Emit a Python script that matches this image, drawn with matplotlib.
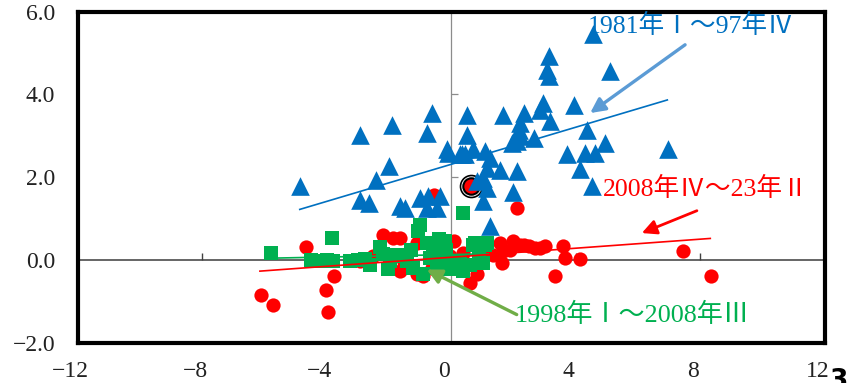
import matplotlib
matplotlib.use("Agg")
import matplotlib.pyplot as plt
import matplotlib.transforms as mtransforms
from matplotlib.markers import TICKUP, TICKRIGHT

# ---- data -------------------------------------------------------------
# 1981 Q1 - 1997 Q4
blue_x = [-4.86, -2.92, -1.90, -0.62, -0.78, -1.99, -2.42, -2.92, -2.63, -1.64,
          -1.48, -1.00, -0.73, -0.78, -0.46, -0.35, -0.14, 0.50, 0.50, 0.45,
          0.29, 0.72, 1.09, 1.25, 1.67, 2.34, 2.86, 2.97, 3.18, 2.22,
          2.20, 2.22, 2.11, 2.65, 1.95, 1.15, 1.58, 2.11, 1.04, 0.83,
          1.15, 1.04, 2.00, 1.25, 3.96, 3.15, 3.08, 3.15, 4.55, 5.11,
          4.36, 4.95, 4.31, 4.63, 6.96, 4.52, 4.15, 3.72, -0.09, 0.34]
blue_y = [1.78, 3.02, 3.27, 3.55, 3.07, 2.26, 1.94, 1.46, 1.38, 1.30,
          1.26, 1.50, 1.54, 1.26, 1.26, 1.55, 2.67, 3.50, 3.03, 2.55,
          2.55, 2.67, 2.63, 2.46, 3.50, 3.55, 3.63, 3.79, 3.37, 3.31,
          3.15, 2.99, 2.87, 2.95, 2.83, 2.22, 2.18, 2.14, 1.98, 1.90,
          1.74, 1.42, 1.64, 0.81, 3.75, 4.92, 4.60, 4.44, 5.46, 4.56,
          3.15, 2.83, 2.58, 2.58, 2.67, 1.78, 2.19, 2.55, 2.58, 2.55]

# 1998 Q1 - 2008 Q3
green_x = [-5.80, -3.81, -4.49, -4.16, -3.99, -3.78, -3.25, -2.77, -2.60, -2.28,
           -2.01, -1.96, -1.75, -1.42, -1.21, -1.05, -1.00, -0.78, -0.68, -0.57,
           -0.46, -0.89, -0.25, -0.03, 0.29, 0.40, 0.40, 0.72, 0.77, 1.09,
           1.15, 1.04, 0.61, 0.13, -0.15, -2.20, -1.60, -0.40, 0.90, -3.00,
           -1.30, -0.20]
green_y = [0.17, 0.52, 0.00, -0.03, 0.00, -0.03, -0.03, 0.03, -0.12, 0.31,
           -0.21, -0.03, 0.13, -0.03, -0.19, 0.69, 0.85, 0.41, 0.05, 0.21,
           -0.19, -0.35, -0.03, -0.23, -0.03, -0.27, 1.14, 0.37, 0.41, 0.37,
           0.41, -0.07, -0.11, -0.11, 0.25, 0.15, 0.10, 0.50, 0.10, 0.00,
           0.25, 0.45]

# 2008 Q4 - 2023 Q2
red_x = [-6.10, -5.73, -4.66, -4.02, -3.95, -3.75, -2.18, -1.85, -1.64, -2.93,
         -1.64, -1.10, -1.10, -0.55, 0.10, 2.11, 1.63, 0.83, 0.61, 2.00,
         2.33, 1.68, 1.36, -0.03, 2.22, 2.49, 2.86, 3.02, 3.61, 3.67,
         4.15, 3.34, 7.44, 8.35, 1.58, 0.40, -0.89, 0.50, -0.30, -2.50,
         -0.60, 1.10, 1.90, 0.25, -1.50, 2.70]
red_y = [-0.84, -1.08, 0.31, -0.73, -1.26, -0.38, 0.61, 0.53, 0.52, -0.03,
         -0.27, -0.35, 0.41, 1.58, 0.45, 1.26, -0.07, -0.35, -0.56, 0.45,
         0.35, 0.21, 0.13, 0.09, 0.37, 0.33, 0.29, 0.33, 0.33, 0.05,
         0.03, -0.38, 0.21, -0.39, 0.41, 0.17, -0.39, -0.10, -0.15, 0.10,
         -0.20, 0.20, 0.25, -0.20, -0.05, 0.30]

# latest quarter
latest_x = [0.63]
latest_y = [1.78]

# linear trends: (slope, intercept, x_from, x_to)
blue_fit = (0.224, 2.31, -4.86, 6.95)
red_fit = (0.0546, 0.065, -6.14, 8.33)
green_fit = (0.015, 0.13, -5.80, 1.20)

x_ticks = [-12, -8, -4, 0, 4, 8, 12]
y_ticks = [-2.0, 0.0, 2.0, 4.0, 6.0]

label_blue = "1981年Ⅰ～97年Ⅳ"
label_red = "2008年Ⅳ～23年Ⅱ"
label_green = "1998年Ⅰ～2008年Ⅲ"

C_BLUE = "#0070C0"
C_RED = "#FF0000"
C_GREEN = "#00B050"

SERIF = ["Liberation Serif", "Noto Sans CJK JP", "DejaVu Sans"]
plt.rcParams["font.family"] = SERIF

# ---- figure -----------------------------------------------------------
fig = plt.figure(figsize=(8.53, 3.83), dpi=100)
ax = fig.add_axes([0.0909, 0.1052, 0.9666 - 0.0909, 0.9695 - 0.1052])
ax.set_xlim(-12, 12)
ax.set_ylim(-2, 6)

for sp in ax.spines.values():
    sp.set_linewidth(3)
    sp.set_color("black")

ax.set_xticks(x_ticks)
ax.set_yticks(y_ticks)
ax.set_xticklabels([f"{v:d}".replace("-", "\u2212") for v in x_ticks])
ax.set_yticklabels([f"{v:.1f}".replace("-", "\u2212") for v in y_ticks])
ax.tick_params(axis="both", length=0, labelsize=17, colors="#222222")
ax.tick_params(axis="y", pad=16)
ax.tick_params(axis="x", pad=13)
shift = mtransforms.ScaledTranslation(-0.07, 0, fig.dpi_scale_trans)
for lab in ax.get_xticklabels():
    lab.set_transform(lab.get_transform() + shift)

# axes crossing at the origin, with their own tick marks
ax.axhline(0, color="#595959", lw=1.3, zorder=1)
ax.axvline(0, color="#8C8C8C", lw=0.9, zorder=1)
ax.plot(x_ticks, [0] * len(x_ticks), ls="none", marker=TICKUP,
        markersize=5, mew=1.0, color="#404040", zorder=1)
ax.plot([0] * len(y_ticks), y_ticks, ls="none", marker=TICKRIGHT,
        markersize=5, mew=0.9, color="#8C8C8C", zorder=1)

# scatter series
ax.scatter(red_x, red_y, s=105, marker="o", color=C_RED, linewidths=0, zorder=3)
ax.scatter(green_x, green_y, s=100, marker="s", color=C_GREEN, linewidths=0, zorder=4)
ax.scatter(latest_x, latest_y, s=250, marker="o", facecolor="white",
           edgecolor="black", linewidths=1.2, zorder=5)
ax.scatter(latest_x, latest_y, s=140, marker="o", facecolor=C_RED,
           edgecolor="black", linewidths=1.5, zorder=5.1)
ax.scatter(blue_x, blue_y, s=180, marker="^", color=C_BLUE, linewidths=0, zorder=6)


def trend(fit):
    k, b, x0, x1 = fit
    return [x0, x1], [k * x0 + b, k * x1 + b]


gx, gy = trend(green_fit)
ax.plot(gx, gy, color=C_GREEN, lw=1.2, zorder=3.5)
rx, ry = trend(red_fit)
ax.plot(rx, ry, color=C_RED, lw=1.2, zorder=7)
bx, by = trend(blue_fit)
ax.plot(bx, by, color=C_BLUE, lw=1.2, zorder=7)

# period labels with arrows
ax.text(4.40, 5.65, label_blue, color=C_BLUE, fontsize=18.5,
        ha="left", va="center", zorder=5.5)
ax.text(4.89, 1.71, label_red, color=C_RED, fontsize=18.5,
        ha="left", va="center", zorder=8)
ax.text(2.06, -1.32, label_green, color=C_GREEN, fontsize=18.8,
        ha="left", va="center", zorder=8)

ax.annotate("", xy=(4.47, 3.55), xytext=(7.52, 5.20),
            arrowprops=dict(arrowstyle="-|>", color="#5B9BD5", lw=2.4,
                            mutation_scale=22, shrinkA=0, shrinkB=0), zorder=8)
ax.annotate("", xy=(6.13, 0.65), xytext=(7.90, 1.19),
            arrowprops=dict(arrowstyle="-|>", color=C_RED, lw=2.0,
                            mutation_scale=22, shrinkA=0, shrinkB=0), zorder=8)
ax.annotate("", xy=(-0.78, -0.23), xytext=(2.11, -1.32),
            arrowprops=dict(arrowstyle="-|>", color="#70AD47", lw=2.4,
                            mutation_scale=22, shrinkA=0, shrinkB=0), zorder=8)

fig.text(0.983, 0.04, "3", fontsize=19, fontweight="bold",
         family=["DejaVu Sans"], ha="center", va="top")

fig.savefig("out.png", dpi=100)
